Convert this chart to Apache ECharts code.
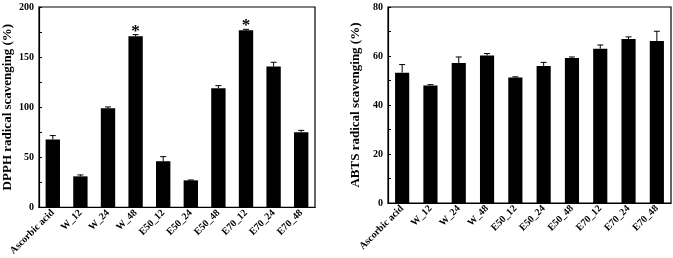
<!DOCTYPE html>
<html>
<head>
  <meta charset="utf-8"/>
  <script src="https://cdn.jsdelivr.net/npm/echarts@6/dist/echarts.min.js"></script>
  <style>
    html, body { margin: 0; padding: 0; background: #fff; }
    #chartmain { width: 673px; height: 258px; }
  </style>
</head>
<body>
<div id="chartmain"></div>
<script type="text/javascript">
// 样品名称
var categories = ['Ascorbic acid', 'W_12', 'W_24', 'W_48', 'E50_12', 'E50_24', 'E50_48', 'E70_12', 'E70_24', 'E70_48'];
// DPPH 清除率及误差上限
var dpphValues = [67.7, 30.9, 98.8, 170.8, 46, 26.9, 118.9, 176.7, 140.6, 74.9];
var dpphErrTop = [71.6, 32.3, 100.2, 172.4, 50.6, 27.3, 121.5, 177.7, 144.8, 76.8];
var dpphStars = ['', '', '', '*', '', '', '', '*', '', ''];
// ABTS 清除率及误差上限
var abtsValues = [53.2, 48.0, 57.1, 60.2, 51.2, 55.9, 59.2, 63.0, 66.9, 66.1];
var abtsErrTop = [56.5, 48.3, 59.6, 61.0, 51.5, 57.4, 59.6, 64.5, 67.8, 70.1];

var font = 'Liberation Serif';

function errData(vals, tops, stars) {
  return vals.map(function (v, i) { return [i, v, tops[i], stars ? stars[i] : '']; });
}

function renderErr(params, api) {
  var base = api.coord([api.value(0), api.value(1)]);
  var top = api.coord([api.value(0), api.value(2)]);
  var children = [
    { type: 'line', shape: { x1: base[0], y1: base[1], x2: top[0], y2: top[1] }, style: { stroke: '#000', lineWidth: 1 } },
    { type: 'line', shape: { x1: top[0] - 3, y1: top[1], x2: top[0] + 3, y2: top[1] }, style: { stroke: '#000', lineWidth: 1 } }
  ];
  var star = api.value(3);
  if (star) {
    children.push({ type: 'text', x: top[0], y: top[1] + 5, style: { text: star, fill: '#000', font: 'bold 17px ' + font, align: 'center', verticalAlign: 'bottom' } });
  }
  return { type: 'group', children: children };
}

function xAxisCfg(gi) {
  return {
    type: 'category', gridIndex: gi, data: categories,
    axisLine: { lineStyle: { color: '#000', width: 1.2 } },
    axisTick: { inside: true, length: 3, lineStyle: { color: '#000' } },
    axisLabel: { rotate: 45, interval: 0, color: '#000', fontFamily: font, fontWeight: 'bold', fontSize: 10, margin: 4 }
  };
}

function yAxisCfg(gi, max, interval, name, nameSize, nameGap) {
  return {
    type: 'value', gridIndex: gi, min: 0, max: max, interval: interval,
    name: name, nameLocation: 'middle', nameGap: nameGap,
    nameTextStyle: { color: '#000', fontFamily: font, fontWeight: 'bold', fontSize: nameSize },
    axisLine: { show: true, lineStyle: { color: '#000', width: 1.2 } },
    axisTick: { show: true, inside: true, length: 3, lineStyle: { color: '#000' } },
    minorTick: { show: true, splitNumber: 2, length: 3, lineStyle: { color: '#000' } },
    splitLine: { show: false },
    axisLabel: { color: '#000', fontFamily: font, fontWeight: 'bold', fontSize: 10, margin: 5 }
  };
}

var option = {
  animation: false,
  backgroundColor: '#fff',
  grid: [
    { left: 39, top: 7, width: 276, height: 203, show: true, borderColor: '#000', borderWidth: 1.2 },
    { left: 388, top: 7, width: 283, height: 196, show: true, borderColor: '#000', borderWidth: 1.2 }
  ],
  xAxis: [xAxisCfg(0), xAxisCfg(1)],
  yAxis: [
    yAxisCfg(0, 200, 50, 'DPPH radical scavenging (%)', 13, 25),
    yAxisCfg(1, 80, 20, 'ABTS radical scavenging (%)', 13, 26)
  ],
  series: [
    { type: 'bar', xAxisIndex: 0, yAxisIndex: 0, data: dpphValues, barWidth: '52%', itemStyle: { color: '#000' } },
    { type: 'custom', xAxisIndex: 0, yAxisIndex: 0, data: errData(dpphValues, dpphErrTop, dpphStars), renderItem: renderErr, z: 3 },
    { type: 'bar', xAxisIndex: 1, yAxisIndex: 1, data: abtsValues, barWidth: '50%', itemStyle: { color: '#000' } },
    { type: 'custom', xAxisIndex: 1, yAxisIndex: 1, data: errData(abtsValues, abtsErrTop), renderItem: renderErr, z: 3 }
  ]
};

var myChart = echarts.init(document.getElementById('chartmain'));
myChart.setOption(option);
</script>
</body>
</html>
